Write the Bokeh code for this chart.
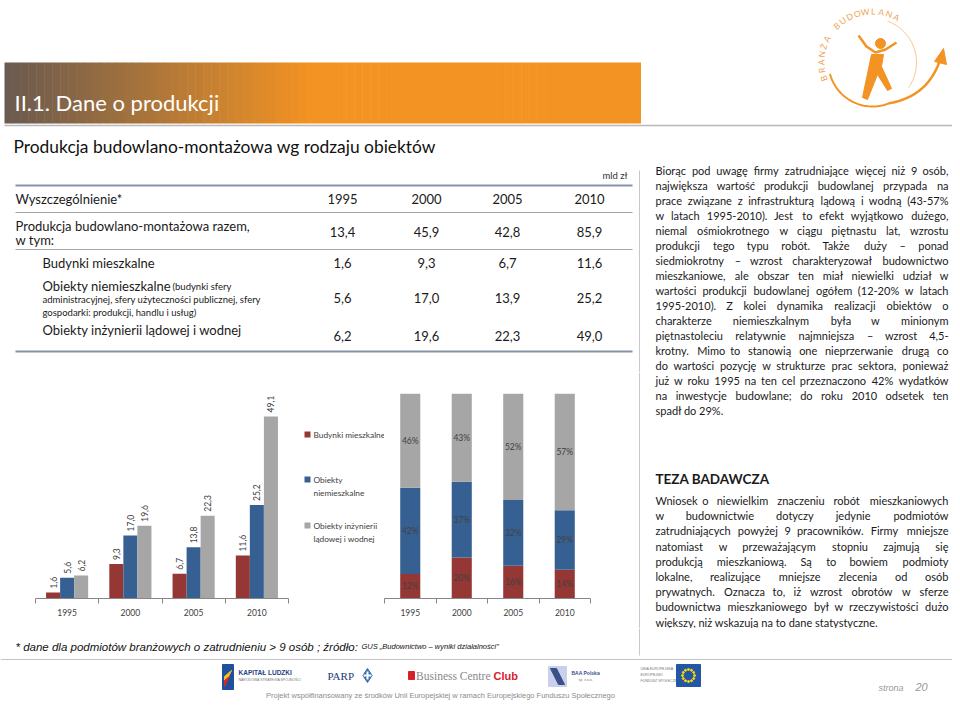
import numpy as np
from bokeh.plotting import figure
from bokeh.layouts import column, row
from bokeh.models import Range1d, FixedTicker, ColumnDataSource
from bokeh.core.properties import value
from bokeh.transform import dodge
from bokeh.embed import file_html
from bokeh.resources import INLINE

# ---------------- data ----------------
years = ["1995", "2000", "2005", "2010"]
mieszkalne = [1.6, 9.3, 6.7, 11.6]
niemieszkalne = [5.6, 17.0, 13.8, 25.2]
inzynieria = [6.2, 19.6, 22.3, 49.1]
udzial_mieszkalne = [12, 20, 16, 14]
udzial_niemieszkalne = [42, 37, 32, 29]
udzial_inzynieria = [46, 43, 52, 57]

table_header = ["1995", "2000", "2005", "2010"]
table_razem = ["13,4", "45,9", "42,8", "85,9"]
table_mieszkalne = ["1,6", "9,3", "6,7", "11,6"]
table_niemieszkalne = ["5,6", "17,0", "13,9", "25,2"]
table_inzynieria = ["6,2", "19,6", "22,3", "49,0"]

legend_lines = [["Budynki mieszkalne"], ["Obiekty", "niemieszkalne"],
                ["Obiekty inżynierii", "lądowej i wodnej"]]
colors = ["#953735", "#376092", "#a6a6a6"]

text1 = [
    "Biorąc pod uwagę firmy zatrudniające więcej niż 9 osób,",
    "największa wartość produkcji budowlanej przypada na",
    "prace związane z infrastrukturą lądową i wodną (43-57%",
    "w latach 1995-2010). Jest to efekt wyjątkowo dużego,",
    "niemal ośmiokrotnego w ciągu piętnastu lat, wzrostu",
    "produkcji tego typu robót. Także duży – ponad",
    "siedmiokrotny – wzrost charakteryzował budownictwo",
    "mieszkaniowe, ale obszar ten miał niewielki udział w",
    "wartości produkcji budowlanej ogółem (12-20% w latach",
    "1995-2010). Z kolei dynamika realizacji obiektów o",
    "charakterze niemieszkalnym była w minionym",
    "piętnastoleciu relatywnie najmniejsza – wzrost 4,5-",
    "krotny. Mimo to stanowią one nieprzerwanie drugą co",
    "do wartości pozycję w strukturze prac sektora, ponieważ",
    "już w roku 1995 na ten cel przeznaczono 42% wydatków",
    "na inwestycje budowlane; do roku 2010 odsetek ten",
    "spadł do 29%.",
]
text2 = [
    "Wniosek o niewielkim znaczeniu robót mieszkaniowych",
    "w budownictwie dotyczy jedynie podmiotów",
    "zatrudniających powyżej 9 pracowników. Firmy mniejsze",
    "natomiast w przeważającym stopniu zajmują się",
    "produkcją mieszkaniową. Są to bowiem podmioty",
    "lokalne, realizujące mniejsze zlecenia od osób",
    "prywatnych. Oznacza to, iż wzrost obrotów w sferze",
    "budownictwa mieszkaniowego był w rzeczywistości dużo",
    "większy, niż wskazują na to dane statystyczne.",
]

FONT = "Lato"
ORANGE = "#f39323"
DARK = "#1a1a1a"


def canvas(x0, x1, y0, y1):
    p = figure(width=x1 - x0, height=y1 - y0, x_range=Range1d(x0, x1),
               y_range=Range1d(y1, y0), output_backend="svg",
               toolbar_location=None, x_axis_location=None,
               y_axis_location=None, min_border=0, outline_line_color=None,
               frame_align=False)
    p.grid.visible = False
    return p


def T(p, x, y, s, size, color=DARK, font=FONT, style="normal",
      align="left", baseline="middle", angle=0.0):
    p.text(x=[x], y=[y], text=[s], text_font=value(font),
           text_font_size=f"{size}px", text_color=color,
           text_font_style=style, text_align=align,
           text_baseline=baseline, angle=angle)


# approximate Lato advance widths (em) for justification
W = {' ': .19, ',': .2, '.': .2, ';': .2, ':': .2, '(': .3, ')': .3, '-': .35,
     '–': .55, '%': .78}
for ch, w in zip("abcdefghijklmnopqrstuvwxyz",
                 [.51, .57, .46, .57, .53, .33, .51, .57, .24, .24, .51, .24, .86,
                  .57, .57, .57, .57, .38, .43, .36, .57, .52, .79, .50, .52, .46]):
    W[ch] = w
for d in "0123456789":
    W[d] = .58
PL = {'ą': 'a', 'ę': 'e', 'ó': 'o', 'ś': 's', 'ł': 'l', 'ż': 'z', 'ź': 'z',
      'ć': 'c', 'ń': 'n'}


def tw(s, size):
    t = 0.0
    for ch in s:
        c = PL.get(ch, ch)
        if c in W:
            t += W[c]
        elif c.isupper():
            t += .27 if c == 'I' else .65
        else:
            t += .5
    return t * size


def justify(lines, y0, dy, size, x0, x1):
    xs, ys, ts, al = [], [], [], []
    for k, line in enumerate(lines):
        y = y0 + k * dy
        words = line.split(" ")
        if k == len(lines) - 1 or len(words) == 1:
            xs.append(x0); ys.append(y); ts.append(line); al.append("left")
            continue
        ws = [tw(w, size) for w in words]
        gap = (x1 - x0 - sum(ws)) / (len(words) - 1)
        x = x0
        for j, w in enumerate(words):
            if j == len(words) - 1:
                xs.append(x1); al.append("right")
            else:
                xs.append(x); al.append("left")
            ys.append(y); ts.append(w)
            x += ws[j] + gap
    return xs, ys, ts, al


def put_words(p, xs, ys, ts, al, size, keep):
    idx = [i for i in range(len(xs)) if keep(ys[i])]
    if not idx:
        return
    src = ColumnDataSource(dict(x=[xs[i] for i in idx], y=[ys[i] for i in idx],
                                t=[ts[i] for i in idx], a=[al[i] for i in idx]))
    p.text(x="x", y="y", text="t", text_align="a", source=src,
           text_font=value(FONT), text_font_size=f"{size}px",
           text_color=DARK, text_baseline="middle")


PAGE_W, PAGE_H = 952, 700
SPLIT = 372
BOT = 628
TXT_SIZE = 11
jx1 = justify(text1, 170, 15.0, TXT_SIZE, 655, 948)
jx2 = justify(text2, 500, 15.2, TXT_SIZE, 655, 948)

# ---------------- top band ----------------
top = canvas(0, PAGE_W, 0, SPLIT)

# header gradient bar
n = 80
edges = np.linspace(4, 640, n + 1)
c0 = np.array([0x6b, 0x5b, 0x50]); c1 = np.array([0xf3, 0x93, 0x23])
cols = []
for i in range(n):
    t = min(1.0, max(0.0, (edges[i] - 4) / 300.0))
    c = (c0 + (c1 - c0) * t).astype(int)
    cols.append("#%02x%02x%02x" % tuple(c))
top.quad(left=edges[:-1], right=edges[1:] + 0.5, top=62, bottom=123,
         fill_color=cols, line_color=None)
top.line([4, 960], [125, 125], line_color="#b8b8b8", line_width=1.5)
T(top, 14, 102, "II.1. Dane o produkcji", 22, color="white")
T(top, 13, 146, "Produkcja budowlano-montażowa wg rodzaju obiektów", 17.4, color="#111111")

# logo
cx, cy, r = 872, 62, 44
th = np.radians(np.linspace(-35, 70, 60))
top.line(cx + r * np.cos(th), cy - r * np.sin(th), line_color="#f7c48c", line_width=1)
th = np.radians(np.linspace(195, 292, 60))
top.line(cx + r * np.cos(th), cy - r * np.sin(th), line_color=ORANGE, line_width=2)
sx, sy = cx + r * np.cos(np.radians(292)), cy - r * np.sin(np.radians(292))
tt = np.linspace(0, 1, 30)
ctrl = (928, 96); tip = (940, 58)
bx = (1 - tt) ** 2 * sx + 2 * (1 - tt) * tt * ctrl[0] + tt ** 2 * tip[0]
by = (1 - tt) ** 2 * sy + 2 * (1 - tt) * tt * ctrl[1] + tt ** 2 * tip[1]
top.line(bx, by, line_color=ORANGE, line_width=2.5)
top.patch([943, 946, 934], [48, 64, 61], color=ORANGE)
letters = "BRANŻA BUDOWLANA"
angs = np.linspace(198, 62, len(letters))
for ch, a in zip(letters, angs):
    if ch == " ":
        continue
    R = r + 7
    T(top, cx + R * np.cos(np.radians(a)), cy - R * np.sin(np.radians(a)), ch, 8.5,
      color="#f0a455", align="center", angle=np.radians(a - 90))
top.ellipse(x=[880], y=[43], width=10, height=10, color=ORANGE)
top.line([858, 866, 875, 885, 896], [35, 46, 52, 49, 42], line_color=ORANGE, line_width=2.5)
top.patch([871, 883, 881, 891, 887, 877, 867, 862],
          [54, 54, 66, 88, 90, 74, 99, 97], color=ORANGE)

# "mld zł", separator
T(top, 627, 175, "mld zł", 9.5, color="#333333", align="right")
top.line([639, 639], [170, SPLIT], line_color="#c8c8c8", line_width=1)

# table
for yy, lw, lc in [(185, 2, "#8593a8"), (212, 1, "#a6a6a6"), (249, 1, "#a6a6a6"), (351, 2, "#8593a8")]:
    top.line([15, 632], [yy, yy], line_color=lc, line_width=lw)
colx = [342, 426, 507, 589]
TS = 13
T(top, 15, 198, "Wyszczególnienie*", TS)
for x, s in zip(colx, table_header):
    T(top, x, 198, s, TS, align="center")
T(top, 15, 225, "Produkcja budowlano-montażowa razem,", TS)
T(top, 15, 239, "w tym:", TS)
for x, s in zip(colx, table_razem):
    T(top, x, 231, s, TS, align="center")
T(top, 42, 262, "Budynki mieszkalne", TS)
for x, s in zip(colx, table_mieszkalne):
    T(top, x, 262, s, TS, align="center")
T(top, 42, 285, "Obiekty niemieszkalne", TS)
T(top, 172, 286, "(budynki sfery", 9.5)
T(top, 42, 299, "administracyjnej, sfery użyteczności publicznej, sfery", 9.5)
T(top, 42, 312, "gospodarki: produkcji, handlu i usług)", 9.5)
for x, s in zip(colx, table_niemieszkalne):
    T(top, x, 297, s, TS, align="center")
T(top, 42, 329, "Obiekty inżynierii lądowej i wodnej", TS)
for x, s in zip(colx, table_inzynieria):
    T(top, x, 335, s, TS, align="center")

put_words(top, *jx1, TXT_SIZE, lambda y: y < SPLIT)

# ---------------- middle band ----------------
xs = np.arange(len(years)) + 0.5
ticks = FixedTicker(ticks=list(xs), minor_ticks=list(range(len(years) + 1)))


def style_axis(p):
    ax = p.xaxis[0]
    ax.ticker = ticks
    ax.major_label_overrides = {float(x): y for x, y in zip(xs, years)}
    ax.major_tick_in = 0
    ax.major_tick_out = 0
    ax.minor_tick_in = 0
    ax.minor_tick_out = 5
    ax.minor_tick_line_color = "#868686"
    ax.axis_line_color = "#868686"
    ax.major_label_text_font = FONT
    ax.major_label_text_font_size = "8.5px"
    ax.major_label_text_color = "#404040"
    ax.major_label_standoff = 5
    p.grid.visible = False


def fmt(v):
    return f"{v:.1f}".replace(".", ",")


p1 = figure(width=295, height=BOT - SPLIT, x_range=Range1d(0, 4), y_range=Range1d(0, 55),
            output_backend="svg", toolbar_location=None, y_axis_location=None,
            min_border_left=35, min_border_right=7, min_border_top=22,
            min_border_bottom=30, outline_line_color=None, frame_align=False)
s1 = ColumnDataSource(dict(x=xs, m=mieszkalne, n=niemieszkalne, i=inzynieria,
                           ml=[fmt(v) for v in mieszkalne],
                           nl=[fmt(v) for v in niemieszkalne],
                           il=[fmt(v) for v in inzynieria]))
bw = 0.222
for key, lab, off, col in [("m", "ml", -bw, colors[0]), ("n", "nl", 0, colors[1]),
                           ("i", "il", bw, colors[2])]:
    p1.vbar(x=dodge("x", off), top=key, width=bw, source=s1, fill_color=col, line_color=None)
    p1.text(x=dodge("x", off), y=key, text=lab, source=s1, angle=np.pi / 2,
            text_align="left", text_baseline="middle", y_offset=-4,
            text_font=value(FONT), text_font_size="8.5px", text_color="#404040")
style_axis(p1)

leg = canvas(295, 384, SPLIT, BOT)
ly = [434, 479, 525]
leg.scatter(x=[307] * 3, y=ly, marker="square", size=6, color=colors, line_color=None)
for yy, lines in zip(ly, legend_lines):
    for k, s in enumerate(lines):
        T(leg, 313, yy + k * 13, s, 8.3, color="#404040")

p2 = figure(width=216, height=BOT - SPLIT, x_range=Range1d(0, 4), y_range=Range1d(0, 100),
            output_backend="svg", toolbar_location=None, y_axis_location=None,
            min_border_left=0, min_border_right=10, min_border_top=21,
            min_border_bottom=30, outline_line_color=None, frame_align=False)
a = np.array(udzial_mieszkalne, float)
b = np.array(udzial_niemieszkalne, float)
c = np.array(udzial_inzynieria, float)
s2 = ColumnDataSource(dict(x=xs, a=a, b=b, c=c,
                           ya=a / 2, yb=a + b / 2, yc=a + b + c / 2,
                           la=[f"{int(v)}%" for v in a], lb=[f"{int(v)}%" for v in b],
                           lc=[f"{int(v)}%" for v in c]))
p2.vbar_stack(["a", "b", "c"], x="x", width=0.39, source=s2, color=colors, line_color=None)
for yk, lk in [("ya", "la"), ("yb", "lb"), ("yc", "lc")]:
    p2.text(x="x", y=yk, text=lk, source=s2, text_align="center", text_baseline="middle",
            text_font=value(FONT), text_font_size="8.5px", text_color="#404040")
style_axis(p2)

right = canvas(600, PAGE_W, SPLIT, BOT)
right.line([639, 639], [SPLIT, BOT], line_color="#c8c8c8", line_width=1)
put_words(right, *jx1, TXT_SIZE, lambda y: y >= SPLIT)
T(right, 655, 478, "TEZA BADAWCZA", 13.5, style="bold")
put_words(right, *jx2, TXT_SIZE, lambda y: True)

# ---------------- bottom band ----------------
bot = canvas(0, PAGE_W, BOT, PAGE_H)
bot.line([639, 639], [BOT, 655], line_color="#c8c8c8", line_width=1)
T(bot, 15, 646, "* dane dla podmiotów branżowych o zatrudnieniu > 9 osób ; źródło:", 11.5,
  color="#111111", font="Liberation Sans", style="italic")
T(bot, 361, 646, "GUS „Budownictwo – wyniki działalności”", 7.5,
  color="#111111", font="Liberation Sans", style="italic")
bot.line([0, 960], [659, 659], line_color="#c4c4c4", line_width=1)
# logos (approximate)
bot.quad(left=222, right=233, top=664, bottom=689, color="#1f4f9f")
bot.patch([224, 231, 224], [676, 670, 684], color="#f5c518")
bot.patch([224, 229, 224], [680, 676, 686], color="#d7262f")
T(bot, 238, 672, "KAPITAŁ LUDZKI", 6.5, color="#1f3f7f", font="Liberation Sans", style="bold")
T(bot, 238, 679, "NARODOWA STRATEGIA SPÓJNOŚCI", 3.5, color="#777777", font="Liberation Sans")
T(bot, 327, 675, "PARP", 11, color="#1a3a7a", font="Liberation Serif")
bot.scatter(x=[367], y=[675], marker="diamond", size=14, color="#3a6fb0")
bot.scatter(x=[367], y=[675], marker="cross", size=8, line_color="white", line_width=2)
bot.quad(left=408, right=414, top=671, bottom=679, color="#d8202a")
T(bot, 490, 675, "Business Centre", 11.5, color="#8a8a8a", font="Liberation Serif", align="right")
T(bot, 493, 675, "Club", 11, color="#d8202a", font="Liberation Sans", style="bold")
bot.quad(left=548, right=566, top=666, bottom=686, color="#c9d1ea")
bot.patch([550, 556, 564, 558], [668, 668, 684, 684], color="#3b4f8a")
T(bot, 571, 672, "BAA Polska", 5, color="#3b4f8a", font="Liberation Sans", style="bold")
T(bot, 578, 679, "sp. z o.o.", 3.5, color="#777777", font="Liberation Sans")
for k, s in enumerate(["UNIA EUROPEJSKA", "EUROPEJSKI", "FUNDUSZ SPOŁECZNY"]):
    T(bot, 640, 668 + k * 6, s, 3.5, color="#777777", font="Liberation Sans")
bot.quad(left=676, right=700, top=664, bottom=686, color="#2456a6")
ang = np.linspace(0, 2 * np.pi, 13)[:-1]
bot.scatter(x=688 + 6 * np.cos(ang), y=675 + 6 * np.sin(ang), size=2, color="#ffdd00")
T(bot, 878, 687, "strona", 9, color="#999999", font="Liberation Sans", style="italic")
T(bot, 915, 686, "20", 11, color="#999999", font="Liberation Sans", style="italic")
T(bot, 440, 695, "Projekt współfinansowany ze środków Unii Europejskiej w ramach Europejskiego Funduszu Społecznego",
  7.5, color="#8c8c8c", font="Liberation Sans", align="center")

layout = column(top, row(p1, leg, p2, right), bot)
open("out.html", "w").write(file_html(layout, INLINE))
